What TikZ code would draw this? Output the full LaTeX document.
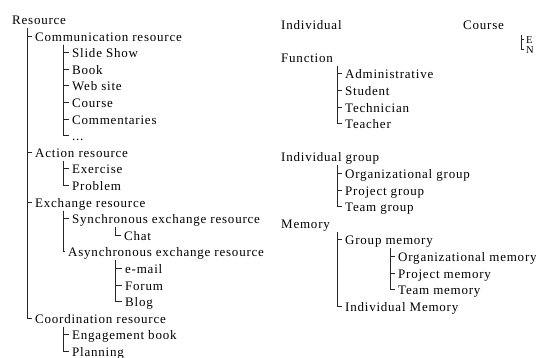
\documentclass[tikz,border=0pt]{standalone}
\usepackage{fontspec}
\setmainfont{Liberation Serif}[LetterSpace=6.0]
\begin{document}
\begin{tikzpicture}[x=1pt,y=-1pt,
  lbl/.style={anchor=base west, inner xsep=3pt, inner ysep=0pt, text height=10pt, text depth=0pt, font=\fontsize{13}{15}\selectfont},
  sml/.style={anchor=base west, inner xsep=2pt, inner ysep=0pt, text height=8pt, text depth=0pt, font=\fontsize{10.5}{12}\selectfont},
  tree/.style={line width=1pt, black!85}]
\useasboundingbox[fill=white] (0,0) rectangle (536,358);
% ---------- left column ----------
\node[lbl] (r0)  at (9,  {24.5+16.6*0})  {Resource};
\node[lbl] (r1)  at (32, {24.5+16.6*1})  {Communication resource};
\node[lbl] (r2)  at (69, {24.5+16.6*2})  {Slide Show};
\node[lbl] (r3)  at (69, {24.5+16.6*3})  {Book};
\node[lbl] (r4)  at (69, {24.5+16.6*4})  {Web site};
\node[lbl] (r5)  at (69, {24.5+16.6*5})  {Course};
\node[lbl] (r6)  at (69, {24.5+16.6*6})  {Commentaries};
\node[lbl] (r7)  at (69, {24.5+16.6*7})  {...};
\node[lbl] (r8)  at (32, {24.5+16.6*8})  {Action resource};
\node[lbl] (r9)  at (69, {24.5+16.6*9})  {Exercise};
\node[lbl] (r10) at (69, {24.5+16.6*10}) {Problem};
\node[lbl] (r11) at (32, {24.5+16.6*11}) {Exchange resource};
\node[lbl] (r12) at (69, {24.5+16.6*12}) {Synchronous exchange resource};
\node[lbl] (r13) at (121,{24.5+16.6*13}) {Chat};
\node[lbl] (r14) at (65, {24.5+16.6*14}) {Asynchronous exchange resource};
\node[lbl] (r15) at (122,{24.5+16.6*15}) {e-mail};
\node[lbl] (r16) at (122,{24.5+16.6*16}) {Forum};
\node[lbl] (r17) at (122,{24.5+16.6*17}) {Blog};
\node[lbl] (r18) at (32, {24.5+16.6*18}) {Coordination resource};
\node[lbl] (r19) at (69, {24.5+16.6*19}) {Engagement book};
\node[lbl] (r20) at (69, {24.5+16.6*20}) {Planning};
% spines (left)
\coordinate (s0)  at (27, {20+16.6*0+8});
\coordinate (s1)  at (63, {20+16.6*1+8});
\coordinate (s8)  at (63, {20+16.6*8+8});
\coordinate (s11) at (63, {20+16.6*11+8});
\coordinate (s12) at (115,{20+16.6*12+8});
\coordinate (s14) at (115,{20+16.6*14+8});
\coordinate (s18) at (63, {20+16.6*18+8});
\foreach \c in {1,8,11,18} \draw[tree] (s0) |- (r\c.west);
\foreach \c in {2,...,7} \draw[tree] (s1) |- (r\c.west);
\foreach \c in {9,10} \draw[tree] (s8) |- (r\c.west);
\foreach \c in {12,14} \draw[tree] (s11) |- (r\c.west);
\draw[tree] (s12) |- (r13.west);
\foreach \c in {15,16,17} \draw[tree] (s14) |- (r\c.west);
\foreach \c in {19,20} \draw[tree] (s18) |- (r\c.west);
% ---------- right column ----------
\node[lbl] (q0)  at (278,{29.2+16.6*0})  {Individual};
\node[lbl] (cs)  at (460,{29.2+16.6*0})  {Course};
\node[lbl] (q2)  at (278,{29.2+16.6*2})  {Function};
\node[lbl] (q3)  at (342,{29.2+16.6*3})  {Administrative};
\node[lbl] (q4)  at (342,{29.2+16.6*4})  {Student};
\node[lbl] (q5)  at (342,{29.2+16.6*5})  {Technician};
\node[lbl] (q6)  at (342,{29.2+16.6*6})  {Teacher};
\node[lbl] (q8)  at (278,{29.2+16.6*8})  {Individual group};
\node[lbl] (q9)  at (342,{29.2+16.6*9})  {Organizational group};
\node[lbl] (q10) at (342,{29.2+16.6*10}) {Project group};
\node[lbl] (q11) at (342,{29.2+16.6*11}) {Team group};
\node[lbl] (q12) at (278,{29.2+16.6*12}) {Memory};
\node[lbl] (q13) at (342,{29.2+16.6*13}) {Group memory};
\node[lbl] (q14) at (395,{29.2+16.6*14}) {Organizational memory};
\node[lbl] (q15) at (395,{29.2+16.6*15}) {Project memory};
\node[lbl] (q16) at (395,{29.2+16.6*16}) {Team memory};
\node[lbl] (q17) at (342,{29.2+16.6*17}) {Individual Memory};
\node[sml] (ce)  at (524,44)   {E};
\node[sml] (cn)  at (524,53.5) {N};
% spines (right)
\coordinate (t2)  at (337,{24.7+16.6*2+8});
\coordinate (t8)  at (337,{24.7+16.6*8+8});
\coordinate (t12) at (337,{24.7+16.6*12+8});
\coordinate (t13) at (390,{24.7+16.6*13+8});
\coordinate (tc)  at (521,35);
\foreach \c in {3,...,6} \draw[tree] (t2) |- (q\c.west);
\foreach \c in {9,10,11} \draw[tree] (t8) |- (q\c.west);
\foreach \c in {13,17} \draw[tree] (t12) |- (q\c.west);
\foreach \c in {14,15,16} \draw[tree] (t13) |- (q\c.west);
\draw[tree] (tc) |- (ce.west);
\draw[tree] (tc) |- (cn.west);
\end{tikzpicture}
\end{document}
